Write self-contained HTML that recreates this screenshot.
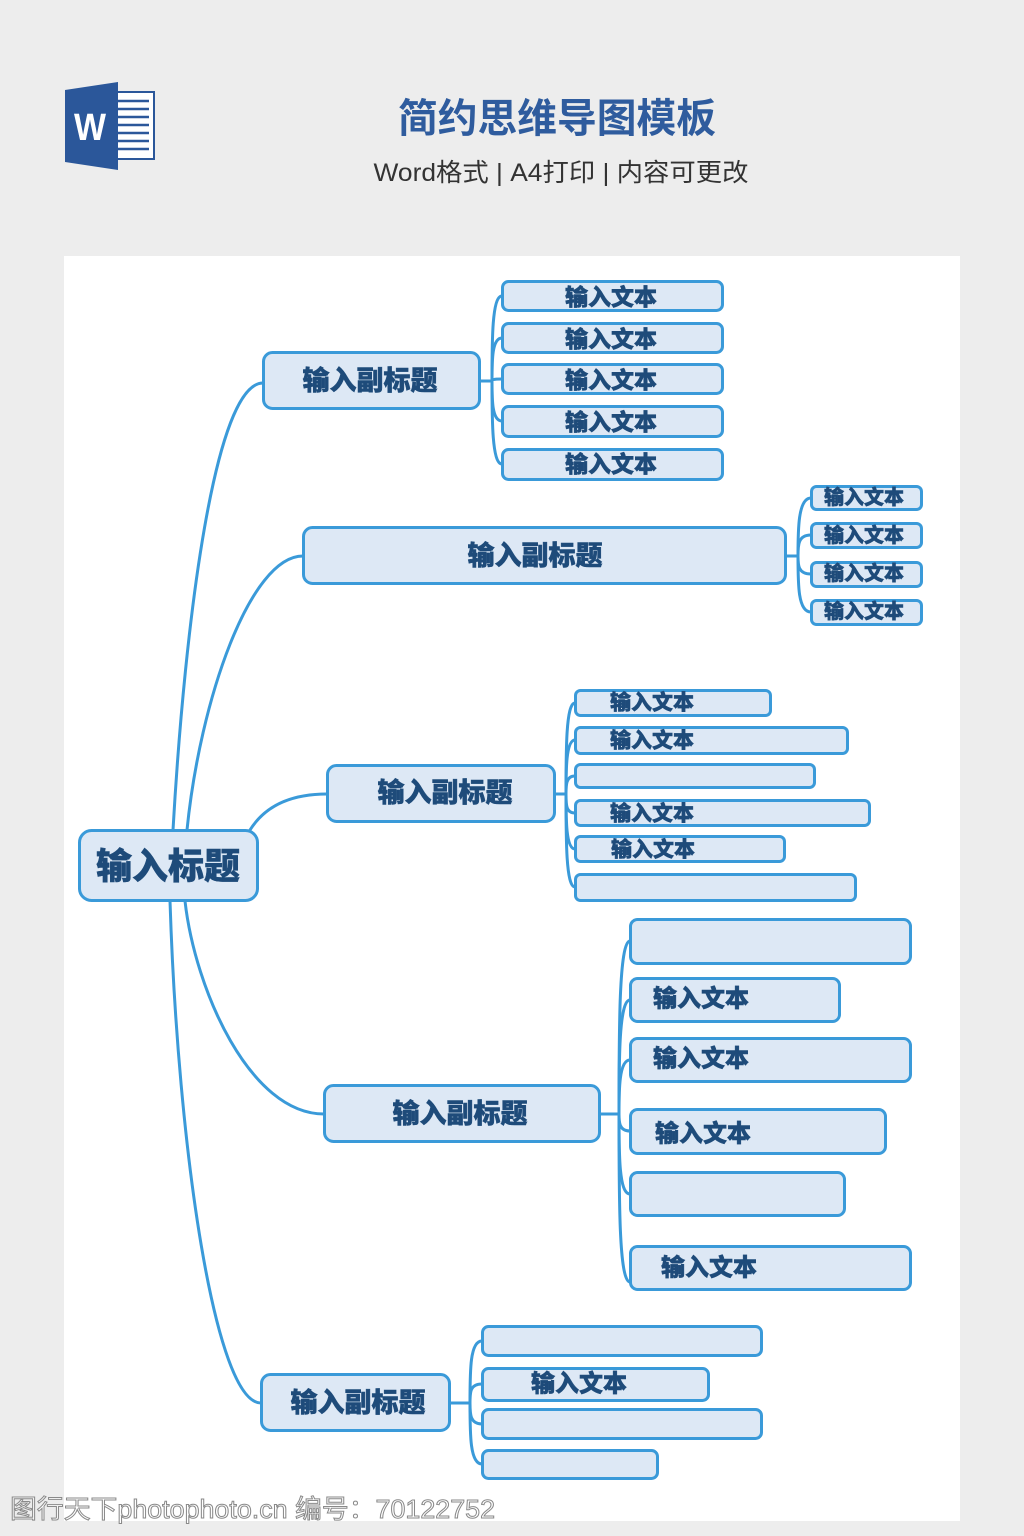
<!DOCTYPE html>
<html>
<head>
<meta charset="utf-8">
<style>
html,body{margin:0;padding:0;background:#ededed;}
svg{display:block;}
.lbl{font-family:"Liberation Sans","Noto Sans CJK SC",sans-serif;font-weight:900;fill:#1e4b7a;stroke:#1e4b7a;stroke-width:0.5;}
</style>
</head>
<body>
<svg width="1024" height="1536" viewBox="0 0 1024 1536" xmlns="http://www.w3.org/2000/svg">
  <rect x="0" y="0" width="1024" height="1536" fill="#ededed"/>
  <!-- Word icon -->
  <rect x="112" y="92" width="42" height="67" fill="#ffffff" stroke="#2b579a" stroke-width="2"/>
  <g stroke="#2b579a" stroke-width="2.5">
    <line x1="118" y1="101" x2="149" y2="101"/>
    <line x1="118" y1="109" x2="149" y2="109"/>
    <line x1="118" y1="117" x2="149" y2="117"/>
    <line x1="118" y1="125" x2="149" y2="125"/>
    <line x1="118" y1="133" x2="149" y2="133"/>
    <line x1="118" y1="141" x2="149" y2="141"/>
    <line x1="118" y1="149" x2="149" y2="149"/>
  </g>
  <polygon points="65,90 118,82 118,170 65,162" fill="#2b579a"/>
  <text x="90" y="140" text-anchor="middle" font-family="Liberation Sans, sans-serif" font-weight="700" font-size="38" fill="#ffffff" textLength="32" lengthAdjust="spacingAndGlyphs">W</text>

  <!-- Title -->
  <text x="557" y="132" text-anchor="middle" font-family="Liberation Sans, Noto Sans CJK SC, sans-serif" font-weight="700" font-size="40" fill="#2f5c9e" textLength="318" lengthAdjust="spacingAndGlyphs">简约思维导图模板</text>
  <text x="561" y="181" text-anchor="middle" font-family="Liberation Sans, Noto Sans CJK SC, sans-serif" font-weight="400" font-size="25" fill="#333333" textLength="375" lengthAdjust="spacingAndGlyphs">Word格式 | A4打印 | 内容可更改</text>

  <!-- Panel -->
  <rect x="64" y="256" width="896" height="1265" fill="#ffffff"/>

  <!-- Root connectors -->
  <g fill="none" stroke="#3a9ad9" stroke-width="3" stroke-linecap="round">
    <path d="M173,830 C185,620 215,383 263,383"/>
    <path d="M187,830 C200,700 250,556 303,556"/>
    <path d="M250,830 C265,806 290,794 327,794"/>
    <path d="M185,901 C195,990 250,1114 324,1114"/>
    <path d="M170,901 C178,1150 215,1403 261,1403"/>

    <!-- Branch 1 children -->
    <path d="M481,381 H492 C492,340 492,296 502,296"/>
    <path d="M481,381 H492 C492,360 492,338 502,338"/>
    <path d="M481,381 H492 C492,380 492,379 502,379"/>
    <path d="M481,381 H492 C492,400 492,421 502,421"/>
    <path d="M481,381 H492 C492,420 492,464 502,464"/>

    <!-- Branch 2 children -->
    <path d="M787,556 H798 C798,530 798,498 811,498"/>
    <path d="M787,556 H798 C798,545 798,535 811,535"/>
    <path d="M787,556 H798 C798,565 798,574 811,574"/>
    <path d="M787,556 H798 C798,585 798,612 811,612"/>

    <!-- Branch 3 children -->
    <path d="M556,794 H566 C566,750 566,703 575,703"/>
    <path d="M556,794 H566 C566,770 566,740 575,740"/>
    <path d="M556,794 H566 C566,785 566,776 575,776"/>
    <path d="M556,794 H566 C566,805 566,813 575,813"/>
    <path d="M556,794 H566 C566,820 566,849 575,849"/>
    <path d="M556,794 H566 C566,840 566,887 575,887"/>

    <!-- Branch 4 children -->
    <path d="M601,1114 H619 C619,1030 619,941 630,941"/>
    <path d="M601,1114 H619 C619,1060 619,1000 630,1000"/>
    <path d="M601,1114 H619 C619,1090 619,1060 630,1060"/>
    <path d="M601,1114 H619 C619,1122 619,1131 630,1131"/>
    <path d="M601,1114 H619 C619,1155 619,1194 630,1194"/>
    <path d="M601,1114 H619 C619,1200 619,1282 630,1282"/>

    <!-- Branch 5 children -->
    <path d="M451,1403 H470 C470,1370 470,1341 482,1341"/>
    <path d="M451,1403 H470 C470,1392 470,1384 482,1384"/>
    <path d="M451,1403 H470 C470,1414 470,1424 482,1424"/>
    <path d="M451,1403 H470 C470,1435 470,1464 482,1464"/>
  </g>

  <!-- Boxes -->
  <g fill="#dde8f5" stroke="#3a9ad9" stroke-width="3">
    <rect x="79.5" y="830.5" width="178" height="70" rx="12"/>
    <rect x="263.5" y="352.5" width="216" height="56" rx="9"/>
    <rect x="303.5" y="527.5" width="482" height="56" rx="9"/>
    <rect x="327.5" y="765.5" width="227" height="56" rx="9"/>
    <rect x="324.5" y="1085.5" width="275" height="56" rx="9"/>
    <rect x="261.5" y="1374.5" width="188" height="56" rx="9"/>

    <rect x="502.5" y="281.5" width="220" height="29" rx="6"/>
    <rect x="502.5" y="323.5" width="220" height="29" rx="6"/>
    <rect x="502.5" y="364.5" width="220" height="29" rx="6"/>
    <rect x="502.5" y="406.5" width="220" height="30" rx="6"/>
    <rect x="502.5" y="449.5" width="220" height="30" rx="6"/>

    <rect x="811.5" y="486.5" width="110" height="23" rx="5"/>
    <rect x="811.5" y="523.5" width="110" height="24" rx="5"/>
    <rect x="811.5" y="562.5" width="110" height="24" rx="5"/>
    <rect x="811.5" y="600.5" width="110" height="24" rx="5"/>

    <rect x="575.5" y="690.5" width="195" height="25" rx="5"/>
    <rect x="575.5" y="727.5" width="272" height="26" rx="5"/>
    <rect x="575.5" y="764.5" width="239" height="23" rx="5"/>
    <rect x="575.5" y="800.5" width="294" height="25" rx="5"/>
    <rect x="575.5" y="836.5" width="209" height="25" rx="5"/>
    <rect x="575.5" y="874.5" width="280" height="26" rx="5"/>

    <rect x="630.5" y="919.5" width="280" height="44" rx="7"/>
    <rect x="630.5" y="978.5" width="209" height="43" rx="7"/>
    <rect x="630.5" y="1038.5" width="280" height="43" rx="7"/>
    <rect x="630.5" y="1109.5" width="255" height="44" rx="7"/>
    <rect x="630.5" y="1172.5" width="214" height="43" rx="7"/>
    <rect x="630.5" y="1246.5" width="280" height="43" rx="7"/>

    <rect x="482.5" y="1326.5" width="279" height="29" rx="6"/>
    <rect x="482.5" y="1368.5" width="226" height="32" rx="6"/>
    <rect x="482.5" y="1409.5" width="279" height="29" rx="6"/>
    <rect x="482.5" y="1450.5" width="175" height="28" rx="6"/>
  </g>

  <!-- Labels -->
  <g class="lbl" dominant-baseline="central">
    <text x="168" y="866" text-anchor="middle" font-size="36">输入标题</text>

    <text x="370" y="381" text-anchor="middle" font-size="27">输入副标题</text>
    <text x="535" y="556" text-anchor="middle" font-size="27">输入副标题</text>
    <text x="445" y="793" text-anchor="middle" font-size="27">输入副标题</text>
    <text x="460" y="1114" text-anchor="middle" font-size="27">输入副标题</text>
    <text x="358" y="1403" text-anchor="middle" font-size="27">输入副标题</text>

    <text x="611" y="297" text-anchor="middle" font-size="23">输入文本</text>
    <text x="611" y="339" text-anchor="middle" font-size="23">输入文本</text>
    <text x="611" y="380" text-anchor="middle" font-size="23">输入文本</text>
    <text x="611" y="422" text-anchor="middle" font-size="23">输入文本</text>
    <text x="611" y="464" text-anchor="middle" font-size="23">输入文本</text>

    <text x="864" y="498" text-anchor="middle" font-size="20">输入文本</text>
    <text x="864" y="536" text-anchor="middle" font-size="20">输入文本</text>
    <text x="864" y="574" text-anchor="middle" font-size="20">输入文本</text>
    <text x="864" y="612" text-anchor="middle" font-size="20">输入文本</text>

    <text x="610" y="703" font-size="21">输入文本</text>
    <text x="610" y="741" font-size="21">输入文本</text>
    <text x="610" y="814" font-size="21">输入文本</text>
    <text x="611" y="850" font-size="21">输入文本</text>

    <text x="653" y="999" font-size="24">输入文本</text>
    <text x="653" y="1059" font-size="24">输入文本</text>
    <text x="655" y="1134" font-size="24">输入文本</text>
    <text x="661" y="1268" font-size="24">输入文本</text>

    <text x="531" y="1384" font-size="24">输入文本</text>
  </g>

  <!-- Watermark -->
  <text x="10" y="1518" font-family="Liberation Sans, Noto Sans CJK SC, sans-serif" font-size="26" fill="#ffffff" stroke="#8a8a8a" stroke-width="1" textLength="485" lengthAdjust="spacingAndGlyphs">图行天下photophoto.cn 编号：70122752</text>
</svg>
</body>
</html>
